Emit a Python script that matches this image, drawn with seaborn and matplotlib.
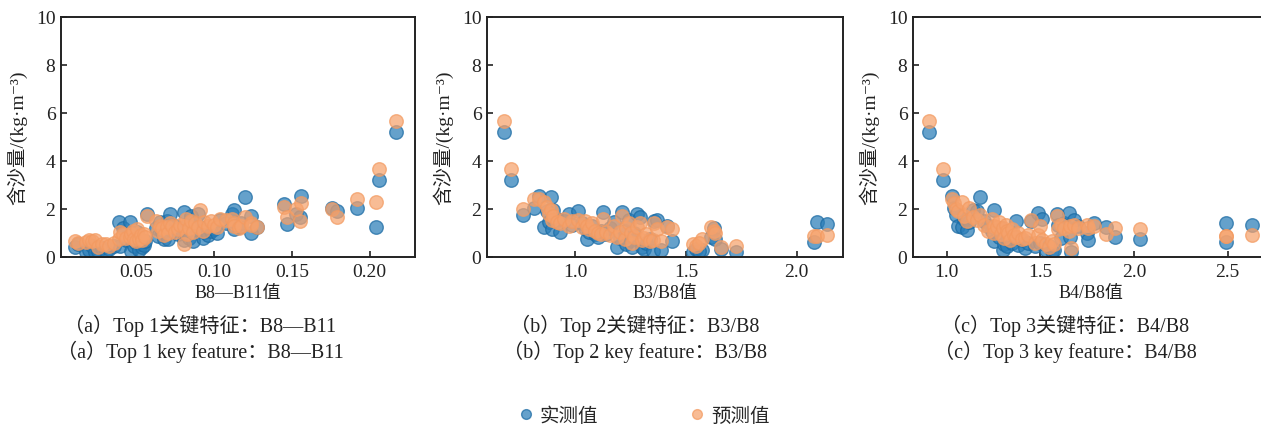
import numpy as np
import pandas as pd
import seaborn as sns
import matplotlib.pyplot as plt
from matplotlib.lines import Line2D

# ---- data: feature value, measured and predicted sediment concentration ----
b8_b11 = [0.011, 0.013, 0.018, 0.020, 0.022, 0.024, 0.026, 0.028, 0.031, 0.033, 0.036,
          0.039, 0.040, 0.042, 0.044, 0.046, 0.047, 0.048, 0.049, 0.050, 0.051, 0.052,
          0.053, 0.054, 0.055, 0.056, 0.057, 0.063, 0.064, 0.0656, 0.067, 0.068, 0.070,
          0.0705, 0.072, 0.073, 0.075, 0.077, 0.078, 0.0806, 0.081, 0.082, 0.083, 0.084,
          0.0855, 0.0865, 0.088, 0.090, 0.091, 0.093, 0.094, 0.096, 0.098, 0.100, 0.102,
          0.104, 0.108, 0.1117, 0.113, 0.113, 0.116, 0.1175, 0.120, 0.124, 0.124, 0.128,
          0.145, 0.147, 0.153, 0.155, 0.156, 0.176, 0.179, 0.192, 0.204, 0.206, 0.217]
meas_1 = [0.40, 0.55, 0.20, 0.30, 0.45, 0.22, 0.26, 0.38, 0.27, 0.35, 0.47,
          1.44, 0.45, 1.20, 0.70, 1.47, 0.26, 0.90, 0.45, 0.60, 1.05, 0.30,
          0.55, 0.40, 0.50, 0.65, 1.79, 1.20, 0.89, 1.44, 1.05, 0.75, 1.50,
          0.75, 1.79, 1.10, 1.30, 0.95, 1.20, 1.86, 0.70, 1.00, 1.35, 0.80,
          1.72, 0.68, 1.15, 1.80, 1.25, 0.80, 1.03, 0.90, 1.10, 1.17, 1.00,
          1.55, 1.40, 1.80, 1.95, 1.17, 1.25, 1.40, 2.48, 1.70, 0.98, 1.24,
          2.20, 1.38, 1.80, 1.66, 2.53, 2.05, 1.90, 2.04, 1.24, 3.21, 5.22]
pred_1 = [0.65, 0.60, 0.62, 0.70, 0.68, 0.72, 0.40, 0.55, 0.54, 0.45, 0.60,
          0.75, 1.03, 0.95, 0.80, 0.85, 0.95, 1.10, 0.75, 0.65, 1.15, 0.75,
          0.90, 0.70, 0.95, 0.85, 1.70, 1.51, 1.10, 1.30, 1.20, 0.90, 1.25,
          1.00, 1.40, 1.30, 1.05, 1.15, 1.35, 1.30, 0.54, 1.60, 0.95, 1.20,
          1.50, 1.05, 1.40, 1.25, 1.96, 1.10, 1.45, 1.30, 1.50, 1.35, 1.25,
          1.58, 1.55, 1.60, 1.40, 1.30, 1.20, 1.30, 1.65, 1.43, 1.35, 1.26,
          2.08, 1.65, 2.00, 1.50, 2.27, 2.02, 1.65, 2.43, 2.28, 3.67, 5.65]

b3_b8 = [0.679, 0.709, 0.763, 0.811, 0.835, 0.857, 0.870, 0.880, 0.890, 0.895, 0.900,
         0.915, 0.932, 0.950, 0.970, 0.985, 1.010, 1.030, 1.045, 1.053, 1.060, 1.075,
         1.090, 1.100, 1.115, 1.125, 1.140, 1.155, 1.173, 1.190, 1.200, 1.210, 1.225,
         1.230, 1.240, 1.250, 1.257, 1.265, 1.278, 1.290, 1.300, 1.310, 1.320, 1.335,
         1.350, 1.357, 1.370, 1.385, 1.415, 1.437, 1.530, 1.545, 1.573, 1.560, 1.615,
         1.625, 1.630, 1.660, 1.724, 2.080, 2.093, 2.136]
meas_2 = [5.22, 3.21, 1.75, 2.04, 2.55, 1.24, 1.90, 1.45, 2.49, 1.17, 1.95,
          1.60, 1.03, 1.50, 1.79, 1.35, 1.93, 1.40, 1.20, 0.75, 1.05, 1.30,
          0.95, 0.82, 1.10, 1.86, 0.95, 1.20, 1.44, 0.40, 0.80, 1.86, 1.10,
          0.55, 1.55, 0.70, 0.40, 1.00, 1.79, 1.65, 0.42, 0.33, 0.60, 0.75,
          0.26, 1.51, 1.55, 0.28, 1.30, 0.68, 0.20, 0.35, 0.30, 0.25, 0.85,
          1.20, 0.75, 0.33, 0.20, 0.61, 1.44, 1.375]
pred_2 = [5.65, 3.67, 2.00, 2.43, 2.40, 2.28, 2.10, 1.80, 1.95, 1.55, 1.70,
          1.45, 1.40, 1.60, 1.30, 1.50, 1.55, 1.25, 1.50, 1.30, 1.15, 1.40,
          1.10, 1.00, 0.95, 1.60, 1.05, 0.90, 1.30, 0.85, 1.05, 1.70, 0.75,
          1.20, 1.40, 1.00, 0.60, 0.85, 1.25, 1.40, 0.70, 0.80, 0.95, 0.65,
          0.70, 1.40, 1.15, 0.68, 1.25, 1.15, 0.55, 0.45, 0.75, 0.60, 1.23,
          1.10, 1.00, 0.40, 0.45, 0.86, 0.88, 0.93]

b4_b8 = [0.905, 0.978, 1.030, 1.040, 1.050, 1.060, 1.080, 1.095, 1.110, 1.120, 1.140,
         1.160, 1.176, 1.200, 1.220, 1.240, 1.250, 1.255, 1.270, 1.280, 1.290, 1.300,
         1.305, 1.315, 1.320, 1.330, 1.340, 1.350, 1.360, 1.370, 1.380, 1.400, 1.420,
         1.435, 1.450, 1.470, 1.490, 1.500, 1.510, 1.530, 1.545, 1.560, 1.575, 1.587,
         1.595, 1.610, 1.625, 1.654, 1.660, 1.662, 1.680, 1.700, 1.750, 1.756, 1.786,
         1.850, 1.900, 2.030, 2.490, 2.490, 2.630]
meas_3 = [5.22, 3.21, 2.53, 2.04, 1.75, 1.30, 1.24, 1.60, 1.14, 1.45, 1.95,
          1.90, 2.50, 1.50, 1.30, 1.07, 1.95, 0.65, 1.10, 0.85, 1.20, 0.30,
          0.55, 0.95, 0.45, 0.75, 1.05, 0.60, 0.85, 1.49, 0.50, 0.70, 0.38,
          0.60, 1.50, 0.45, 1.83, 0.60, 1.60, 0.30, 0.45, 0.25, 0.30, 1.79,
          1.35, 0.80, 1.40, 1.85, 0.85, 0.20, 1.55, 1.30, 0.98, 0.70, 1.40,
          1.23, 0.85, 0.75, 1.42, 0.62, 1.35]
pred_3 = [5.65, 3.67, 2.40, 2.25, 2.00, 1.90, 2.28, 1.70, 1.50, 2.05, 1.65,
          1.55, 1.75, 1.35, 1.10, 1.60, 1.30, 1.00, 1.25, 1.45, 0.95, 1.20,
          0.80, 1.35, 1.10, 1.00, 0.70, 1.15, 0.90, 0.85, 1.00, 0.75, 0.80,
          0.90, 1.55, 0.60, 0.90, 1.30, 0.70, 0.55, 0.40, 0.65, 0.55, 1.70,
          1.15, 1.35, 1.20, 1.10, 1.30, 0.38, 1.35, 1.20, 1.35, 1.20, 1.30,
          0.96, 1.20, 1.15, 0.88, 0.88, 0.93]

panels = [
    (b8_b11, meas_1, pred_1, "B8—B11值", [0.05, 0.10, 0.15, 0.20], "{:.2f}", (0.002, 0.229),
     "（a）Top 1关键特征：B8—B11", "（a）Top 1 key feature：B8—B11"),
    (b3_b8, meas_2, pred_2, "B3/B8值", [1.0, 1.5, 2.0], "{:.1f}", (0.60, 2.21),
     "（b）Top 2关键特征：B3/B8", "（b）Top 2 key feature：B3/B8"),
    (b4_b8, meas_3, pred_3, "B4/B8值", [1.0, 1.5, 2.0, 2.5], "{:.1f}", (0.82, 2.716),
     "（c）Top 3关键特征：B4/B8", "（c）Top 3 key feature：B4/B8"),
]

C_MEAS = "#2a7db8"
C_MEAS_EDGE = "#1a6aa3"
C_PRED = "#f6a26c"
C_PRED_EDGE = "#f39a60"

sns.set_theme(style="ticks")
plt.rcParams["font.family"] = ["Liberation Serif", "Noto Sans CJK SC", "DejaVu Sans"]
plt.rcParams["axes.unicode_minus"] = False

W, H = 1261, 427
fig = plt.figure(figsize=(W / 100, H / 100), dpi=100)

ax_boxes = [(61, 415), (487, 843), (913, 1268)]
caption_x = [200, 635, 1065]
top_px, bot_px = 18, 258

for (xv, mv, pv, xlabel, xticks, fmt, xlim, cap_cn, cap_en), (l, r), cx in zip(panels, ax_boxes, caption_x):
    ax = fig.add_axes([l / W, 1 - bot_px / H, (r - l) / W, (bot_px - top_px) / H])
    df = pd.DataFrame({"x": xv, "实测值": mv, "预测值": pv})
    sns.scatterplot(data=df, x="x", y="实测值", ax=ax, color=C_MEAS, alpha=0.72,
                    s=95, edgecolor=C_MEAS_EDGE, linewidth=1.0, legend=False, zorder=2)
    sns.scatterplot(data=df, x="x", y="预测值", ax=ax, color=C_PRED, alpha=0.72,
                    s=95, edgecolor=C_PRED_EDGE, linewidth=1.0, legend=False, zorder=3)
    ax.set_xlim(*xlim)
    ax.set_ylim(0, 10)
    ax.set_xticks(xticks)
    ax.set_xticklabels([fmt.format(t) for t in xticks])
    ax.set_yticks([0, 2, 4, 6, 8, 10])
    ax.tick_params(direction="in", length=4, width=1.2, labelsize=14, colors="#222222",
                   pad=4, top=False, right=False)
    for sp in ax.spines.values():
        sp.set_visible(True)
        sp.set_color("#222222")
        sp.set_linewidth(1.4)
    ax.set_xlabel(xlabel, fontsize=13, labelpad=3, color="#222222")
    ax.set_ylabel("含沙量/(kg·m⁻³)", fontsize=14, labelpad=6, color="#222222")
    fig.text(cx / W, 1 - 326 / H, cap_cn, ha="center", va="center", fontsize=14.5,
             color="#222222")
    fig.text(cx / W, 1 - 352 / H, cap_en, ha="center", va="center", fontsize=14.5,
             color="#222222")

handles = [
    Line2D([], [], marker="o", linestyle="none", markersize=7, color=C_MEAS, alpha=0.72,
           markeredgecolor=C_MEAS_EDGE),
    Line2D([], [], marker="o", linestyle="none", markersize=7, color=C_PRED, alpha=0.72,
           markeredgecolor=C_PRED_EDGE),
]
fig.legend(handles, ["实测值", "预测值"], loc="center", bbox_to_anchor=(643 / W, 1 - 417 / H),
           ncol=2, frameon=False, fontsize=14, handletextpad=0.2, columnspacing=4.6,
           handlelength=1.0)

fig.savefig("out.png", dpi=100)
